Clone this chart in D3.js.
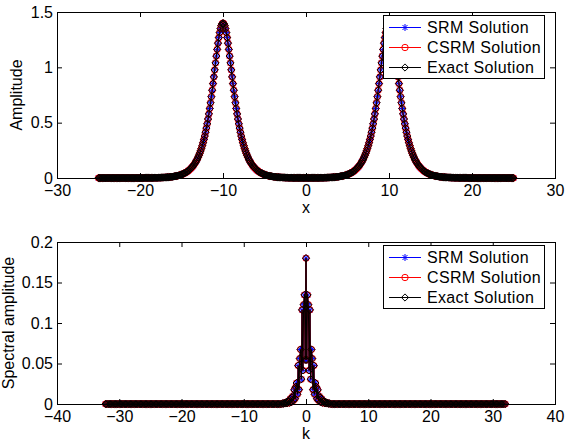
<!DOCTYPE html>
<html lang="en">
<head>
<meta charset="utf-8">
<title>SRM / CSRM / Exact solution</title>
<script src="https://d3js.org/d3.v7.min.js"></script>
<style>
  body { margin: 0; background: #fff; }
  svg text { font-family: "Liberation Sans", Arial, sans-serif; fill: #000; }
</style>
</head>
<body>
<svg id="chart" width="567" height="446"></svg>
<script>

var topX = [
  -25,-24.9,-24.8,-24.7,-24.6,-24.5,-24.4,-24.3,-24.2,-24.1,
  -24,-23.9,-23.8,-23.7,-23.6,-23.5,-23.4,-23.3,-23.2,-23.1,
  -23,-22.9,-22.8,-22.7,-22.6,-22.5,-22.4,-22.3,-22.2,-22.1,
  -22,-21.9,-21.8,-21.7,-21.6,-21.5,-21.4,-21.3,-21.2,-21.1,
  -21,-20.9,-20.8,-20.7,-20.6,-20.5,-20.4,-20.3,-20.2,-20.1,
  -20,-19.9,-19.8,-19.7,-19.6,-19.5,-19.4,-19.3,-19.2,-19.1,
  -19,-18.9,-18.8,-18.7,-18.6,-18.5,-18.4,-18.3,-18.2,-18.1,
  -18,-17.9,-17.8,-17.7,-17.6,-17.5,-17.4,-17.3,-17.2,-17.1,
  -17,-16.9,-16.8,-16.7,-16.6,-16.5,-16.4,-16.3,-16.2,-16.1,
  -16,-15.9,-15.8,-15.7,-15.6,-15.5,-15.4,-15.3,-15.2,-15.1,
  -15,-14.9,-14.8,-14.7,-14.6,-14.5,-14.4,-14.3,-14.2,-14.1,
  -14,-13.9,-13.8,-13.7,-13.6,-13.5,-13.4,-13.3,-13.2,-13.1,
  -13,-12.9,-12.8,-12.7,-12.6,-12.5,-12.4,-12.3,-12.2,-12.1,
  -12,-11.9,-11.8,-11.7,-11.6,-11.5,-11.4,-11.3,-11.2,-11.1,
  -11,-10.9,-10.8,-10.7,-10.6,-10.5,-10.4,-10.3,-10.2,-10.1,
  -10,-9.9,-9.8,-9.7,-9.6,-9.5,-9.4,-9.3,-9.2,-9.1,
  -9,-8.9,-8.8,-8.7,-8.6,-8.5,-8.4,-8.3,-8.2,-8.1,
  -8,-7.9,-7.8,-7.7,-7.6,-7.5,-7.4,-7.3,-7.2,-7.1,
  -7,-6.9,-6.8,-6.7,-6.6,-6.5,-6.4,-6.3,-6.2,-6.1,
  -6,-5.9,-5.8,-5.7,-5.6,-5.5,-5.4,-5.3,-5.2,-5.1,
  -5,-4.9,-4.8,-4.7,-4.6,-4.5,-4.4,-4.3,-4.2,-4.1,
  -4,-3.9,-3.8,-3.7,-3.6,-3.5,-3.4,-3.3,-3.2,-3.1,
  -3,-2.9,-2.8,-2.7,-2.6,-2.5,-2.4,-2.3,-2.2,-2.1,
  -2,-1.9,-1.8,-1.7,-1.6,-1.5,-1.4,-1.3,-1.2,-1.1,
  -1,-0.9,-0.8,-0.7,-0.6,-0.5,-0.4,-0.3,-0.2,-0.1,
  0,0.1,0.2,0.3,0.4,0.5,0.6,0.7,0.8,0.9,
  1,1.1,1.2,1.3,1.4,1.5,1.6,1.7,1.8,1.9,
  2,2.1,2.2,2.3,2.4,2.5,2.6,2.7,2.8,2.9,
  3,3.1,3.2,3.3,3.4,3.5,3.6,3.7,3.8,3.9,
  4,4.1,4.2,4.3,4.4,4.5,4.6,4.7,4.8,4.9,
  5,5.1,5.2,5.3,5.4,5.5,5.6,5.7,5.8,5.9,
  6,6.1,6.2,6.3,6.4,6.5,6.6,6.7,6.8,6.9,
  7,7.1,7.2,7.3,7.4,7.5,7.6,7.7,7.8,7.9,
  8,8.1,8.2,8.3,8.4,8.5,8.6,8.7,8.8,8.9,
  9,9.1,9.2,9.3,9.4,9.5,9.6,9.7,9.8,9.9,
  10,10.1,10.2,10.3,10.4,10.5,10.6,10.7,10.8,10.9,
  11,11.1,11.2,11.3,11.4,11.5,11.6,11.7,11.8,11.9,
  12,12.1,12.2,12.3,12.4,12.5,12.6,12.7,12.8,12.9,
  13,13.1,13.2,13.3,13.4,13.5,13.6,13.7,13.8,13.9,
  14,14.1,14.2,14.3,14.4,14.5,14.6,14.7,14.8,14.9,
  15,15.1,15.2,15.3,15.4,15.5,15.6,15.7,15.8,15.9,
  16,16.1,16.2,16.3,16.4,16.5,16.6,16.7,16.8,16.9,
  17,17.1,17.2,17.3,17.4,17.5,17.6,17.7,17.8,17.9,
  18,18.1,18.2,18.3,18.4,18.5,18.6,18.7,18.8,18.9,
  19,19.1,19.2,19.3,19.4,19.5,19.6,19.7,19.8,19.9,
  20,20.1,20.2,20.3,20.4,20.5,20.6,20.7,20.8,20.9,
  21,21.1,21.2,21.3,21.4,21.5,21.6,21.7,21.8,21.9,
  22,22.1,22.2,22.3,22.4,22.5,22.6,22.7,22.8,22.9,
  23,23.1,23.2,23.3,23.4,23.5,23.6,23.7,23.8,23.9,
  24,24.1,24.2,24.3,24.4,24.5,24.6,24.7,24.8,24.9,
  25
];
var topAmp = [
  // -25.0 .. -19.6
  0,0,0,0,0,0,0,0,0,0, 0,0,0,0,0,0,0,0,0,0, 0,0,0,0,0,0,0,0,0,0,
  0,0,0,0,0,0,0,0,0,0, 0,0,0,0,0,0,0,0,0,0, 0,0,0,0,0,
  // -19.5 .. -16.0
  0.001,0.001,0.001,0.001,0.001,0.001,0.001,0.001,0.001,0.001,0.001,0.001,
  0.002,0.002,0.002,0.002,0.002,0.003,0.003,0.003,0.003,0.004,0.004,0.004,
  0.005,0.005,0.006,0.006,0.007,0.007,0.008,0.009,0.010,0.011,0.012,0.013,
  // -15.9 .. -13.6
  0.014,0.015,0.017,0.018,0.020,0.022,0.024,0.026,0.028,0.031,0.034,0.037,
  0.041,0.045,0.049,0.053,0.058,0.064,0.070,0.076,0.084,0.092,0.100,0.109,
  // -13.5 .. -6.5 (first soliton)
  0.120,0.131,0.143,0.157,0.171,0.187,0.205,0.224,0.245,0.267,
  0.292,0.319,0.348,0.379,0.414,0.451,0.490,0.533,0.579,0.628,
  0.680,0.735,0.793,0.853,0.914,0.977,1.040,1.102,1.162,1.218,
  1.269,1.314,1.350,1.378,1.394,1.400,1.394,1.378,1.350,1.314,
  1.269,1.218,1.162,1.102,1.040,0.977,0.914,0.853,0.793,0.735,
  0.680,0.628,0.579,0.533,0.490,0.451,0.414,0.379,0.348,0.319,
  0.292,0.267,0.245,0.224,0.205,0.187,0.171,0.157,0.143,0.131,
  0.120,
  // -6.4 .. -4.1
  0.109,0.100,0.092,0.084,0.076,0.070,0.064,0.058,0.053,0.049,0.045,0.041,
  0.037,0.034,0.031,0.028,0.026,0.024,0.022,0.020,0.018,0.017,0.015,0.014,
  // -4.0 .. -1.7
  0.013,0.012,0.011,0.010,0.009,0.008,0.007,0.007,0.006,0.006,0.005,0.005,
  0.004,0.004,0.004,0.003,0.003,0.003,0.003,0.002,0.002,0.002,0.002,0.002,
  // -1.6 .. 1.6
  0.001,0.001,0.001,0.001,0.001,0.001,0.001,0.001,0.001,0.001,0.001,
  0.001,0.001,0.001,0.001,0.001,0.001,0.001,0.001,0.001,0.001,0.001,
  0.001,0.001,0.001,0.001,0.001,0.001,0.001,0.001,0.001,0.001,0.001,
  // 1.7 .. 4.0
  0.002,0.002,0.002,0.002,0.002,0.003,0.003,0.003,0.003,0.004,0.004,0.004,
  0.005,0.005,0.006,0.006,0.007,0.007,0.008,0.009,0.010,0.011,0.012,0.013,
  // 4.1 .. 6.4
  0.014,0.015,0.017,0.018,0.020,0.022,0.024,0.026,0.028,0.031,0.034,0.037,
  0.041,0.045,0.049,0.053,0.058,0.064,0.070,0.076,0.084,0.092,0.100,0.109,
  // 6.5 .. 13.5 (second soliton)
  0.120,0.131,0.143,0.157,0.171,0.187,0.205,0.224,0.245,0.267,
  0.292,0.319,0.348,0.379,0.414,0.451,0.490,0.533,0.579,0.628,
  0.680,0.735,0.793,0.853,0.914,0.977,1.040,1.102,1.162,1.218,
  1.269,1.314,1.350,1.378,1.394,1.400,1.394,1.378,1.350,1.314,
  1.269,1.218,1.162,1.102,1.040,0.977,0.914,0.853,0.793,0.735,
  0.680,0.628,0.579,0.533,0.490,0.451,0.414,0.379,0.348,0.319,
  0.292,0.267,0.245,0.224,0.205,0.187,0.171,0.157,0.143,0.131,
  0.120,
  // 13.6 .. 15.9
  0.109,0.100,0.092,0.084,0.076,0.070,0.064,0.058,0.053,0.049,0.045,0.041,
  0.037,0.034,0.031,0.028,0.026,0.024,0.022,0.020,0.018,0.017,0.015,0.014,
  // 16.0 .. 19.5
  0.013,0.012,0.011,0.010,0.009,0.008,0.007,0.007,0.006,0.006,0.005,0.005,
  0.004,0.004,0.004,0.003,0.003,0.003,0.003,0.002,0.002,0.002,0.002,0.002,
  0.001,0.001,0.001,0.001,0.001,0.001,0.001,0.001,0.001,0.001,0.001,0.001,
  // 19.6 .. 25.0
  0,0,0,0,0,0,0,0,0,0, 0,0,0,0,0,0,0,0,0,0, 0,0,0,0,0,0,0,0,0,0,
  0,0,0,0,0,0,0,0,0,0, 0,0,0,0,0,0,0,0,0,0, 0,0,0,0,0
];

// ---- bottom panel: spectral amplitude vs k ----
var specK = [
  -32.2,-32,-31.8,-31.6,-31.4,-31.2,-31,-30.8,-30.6,-30.4,
  -30.2,-30,-29.8,-29.6,-29.4,-29.2,-29,-28.8,-28.6,-28.4,
  -28.2,-28,-27.8,-27.6,-27.4,-27.2,-27,-26.8,-26.6,-26.4,
  -26.2,-26,-25.8,-25.6,-25.4,-25.2,-25,-24.8,-24.6,-24.4,
  -24.2,-24,-23.8,-23.6,-23.4,-23.2,-23,-22.8,-22.6,-22.4,
  -22.2,-22,-21.8,-21.6,-21.4,-21.2,-21,-20.8,-20.6,-20.4,
  -20.2,-20,-19.8,-19.6,-19.4,-19.2,-19,-18.8,-18.6,-18.4,
  -18.2,-18,-17.8,-17.6,-17.4,-17.2,-17,-16.8,-16.6,-16.4,
  -16.2,-16,-15.8,-15.6,-15.4,-15.2,-15,-14.8,-14.6,-14.4,
  -14.2,-14,-13.8,-13.6,-13.4,-13.2,-13,-12.8,-12.6,-12.4,
  -12.2,-12,-11.8,-11.6,-11.4,-11.2,-11,-10.8,-10.6,-10.4,
  -10.2,-10,-9.8,-9.6,-9.4,-9.2,-9,-8.8,-8.6,-8.4,
  -8.2,-8,-7.8,-7.6,-7.4,-7.2,-7,-6.8,-6.6,-6.4,
  -6.2,-6,-5.8,-5.6,-5.4,-5.2,-5,-4.8,-4.6,-4.4,
  -4.2,-4,
  -3.770,-3.644,-3.519,-3.393,-3.267,-3.142,-3.016,-2.890,-2.765,-2.639,-2.513,-2.388,-2.262,-2.136,-2.011,
  -1.885,-1.759,-1.634,-1.508,-1.382,-1.257,-1.131,-1.005,-0.880,-0.754,-0.628,-0.503,-0.377,-0.251,-0.126,0,
  0.126,0.251,0.377,0.503,0.628,0.754,0.880,1.005,1.131,1.257,1.382,1.508,1.634,1.759,1.885,
  2.011,2.136,2.262,2.388,2.513,2.639,2.765,2.890,3.016,3.142,3.267,3.393,3.519,3.644,3.770,
  4,4.2,4.4,4.6,4.8,5,5.2,5.4,5.6,5.8,
  6,6.2,6.4,6.6,6.8,7,7.2,7.4,7.6,7.8,
  8,8.2,8.4,8.6,8.8,9,9.2,9.4,9.6,9.8,
  10,10.2,10.4,10.6,10.8,11,11.2,11.4,11.6,11.8,
  12,12.2,12.4,12.6,12.8,13,13.2,13.4,13.6,13.8,
  14,14.2,14.4,14.6,14.8,15,15.2,15.4,15.6,15.8,
  16,16.2,16.4,16.6,16.8,17,17.2,17.4,17.6,17.8,
  18,18.2,18.4,18.6,18.8,19,19.2,19.4,19.6,19.8,
  20,20.2,20.4,20.6,20.8,21,21.2,21.4,21.6,21.8,
  22,22.2,22.4,22.6,22.8,23,23.2,23.4,23.6,23.8,
  24,24.2,24.4,24.6,24.8,25,25.2,25.4,25.6,25.8,
  26,26.2,26.4,26.6,26.8,27,27.2,27.4,27.6,27.8,
  28,28.2,28.4,28.6,28.8,29,29.2,29.4,29.6,29.8,
  30,30.2,30.4,30.6,30.8,31,31.2,31.4,31.6,31.8,
  32
];
var specAmp = [
  // -32.2 .. -4.0
  0,0,0,0,0,0,0,0,0,0, 0,0,0,0,0,0,0,0,0,0, 0,0,0,0,0,0,0,0,0,0,
  0,0,0,0,0,0,0,0,0,0, 0,0,0,0,0,0,0,0,0,0, 0,0,0,0,0,0,0,0,0,0,
  0,0,0,0,0,0,0,0,0,0, 0,0,0,0,0,0,0,0,0,0, 0,0,0,0,0,0,0,0,0,0,
  0,0,0,0,0,0,0,0,0,0, 0,0,0,0,0,0,0,0,0,0, 0,0,0,0,0,0,0,0,0,0,
  0,0,0,0,0,0,0,0,0,0, 0,0,0,0,0,0,0,0,0,0,
  0,0,
  // central peak
  0.0008,0.0003,0.0010,0.0013,0.0007,0.0024,0.0009,0.0029,0.0035,0.0016,0.0065,0.0024,0.0078,0.0095,0.0044,
  0.0176,0.0066,0.0212,0.0259,0.0120,0.0474,0.0177,0.0561,0.0673,0.0306,0.1162,0.0415,0.1226,0.1346,0.0545,0.180,
  0.0545,0.1346,0.1226,0.0415,0.1162,0.0306,0.0673,0.0561,0.0177,0.0474,0.0120,0.0259,0.0212,0.0066,0.0176,
  0.0044,0.0095,0.0078,0.0024,0.0065,0.0016,0.0035,0.0029,0.0009,0.0024,0.0007,0.0013,0.0010,0.0003,0.0008,
  // 4.0 .. 32.0
  0,0,0,0,0,0,0,0,0,0, 0,0,0,0,0,0,0,0,0,0, 0,0,0,0,0,0,0,0,0,0,
  0,0,0,0,0,0,0,0,0,0, 0,0,0,0,0,0,0,0,0,0, 0,0,0,0,0,0,0,0,0,0,
  0,0,0,0,0,0,0,0,0,0, 0,0,0,0,0,0,0,0,0,0, 0,0,0,0,0,0,0,0,0,0,
  0,0,0,0,0,0,0,0,0,0, 0,0,0,0,0,0,0,0,0,0, 0,0,0,0,0,0,0,0,0,0,
  0,0,0,0,0,0,0,0,0,0, 0,0,0,0,0,0,0,0,0,0,
  0
];

// tick values
var topXTicks = [-30, -20, -10, 0, 10, 20, 30];
var topYTicks = [0, 0.5, 1, 1.5];
var specKTicks = [-40, -30, -20, -10, 0, 10, 20, 30, 40];
var specYTicks = [0, 0.05, 0.1, 0.15, 0.2];

// the three solutions lie on top of each other
var seriesNames = ["SRM Solution", "CSRM Solution", "Exact Solution"];
var seriesColors = ["#0000ff", "#ff0000", "#000000"];
var seriesMarkers = [
  "M-3.5,0H3.5M0,-3.5V3.5M-2.5,-2.5L2.5,2.5M-2.5,2.5L2.5,-2.5",   // asterisk
  "M3.2,0A3.2,3.2 0 1,1 -3.2,0A3.2,3.2 0 1,1 3.2,0Z",           // circle
  "M0,-3.6L3.6,0L0,3.6L-3.6,0Z"                                // diamond
];

if (topX.length !== topAmp.length || specK.length !== specAmp.length) {
  console.error("length mismatch", topX.length, topAmp.length, specK.length, specAmp.length);
}

var svg = d3.select("#chart");
var plotLeft = 57, plotRight = 555;

function drawPanel(cfg) {
  var x = d3.scaleLinear().domain(cfg.xDomain).range([plotLeft, plotRight]);
  var y = d3.scaleLinear().domain(cfg.yDomain).range([cfg.bottom, cfg.top]);
  var g = svg.append("g");

  var pts = cfg.xs.map(function(v, i) { return [v, cfg.ys[i]]; });
  var line = d3.line().x(function(d) { return x(d[0]); }).y(function(d) { return y(d[1]); });

  // series: line + markers, exact solution drawn last
  seriesNames.forEach(function(name, s) {
    g.append("path")
      .datum(pts)
      .attr("fill", "none")
      .attr("stroke", seriesColors[s])
      .attr("stroke-width", 1)
      .attr("d", line);
    g.append("g").selectAll("path")
      .data(pts)
      .join("path")
      .attr("transform", function(d) { return "translate(" + x(d[0]) + "," + y(d[1]) + ")"; })
      .attr("d", seriesMarkers[s])
      .attr("fill", "none")
      .attr("stroke", seriesColors[s])
      .attr("stroke-width", 1);
  });

  // axes, ticks pointing inwards on all four sides
  function style(ax) {
    ax.attr("font-size", 16).attr("font-family", "Liberation Sans, Arial, sans-serif");
    ax.select(".domain").remove();
    ax.selectAll("text").attr("fill", "#000");
  }
  g.append("g").attr("transform", "translate(0," + cfg.bottom + ")")
    .call(d3.axisBottom(x).tickValues(cfg.xTicks).tickSizeInner(-5).tickSizeOuter(0).tickPadding(7))
    .call(style);
  g.append("g").attr("transform", "translate(0," + cfg.top + ")")
    .call(d3.axisTop(x).tickValues(cfg.xTicks).tickSizeInner(-5).tickSizeOuter(0).tickFormat(""))
    .call(style);
  g.append("g").attr("transform", "translate(" + plotLeft + ",0)")
    .call(d3.axisLeft(y).tickValues(cfg.yTicks).tickSizeInner(-5).tickSizeOuter(0).tickPadding(4).tickFormat(d3.format("")))
    .call(style);
  g.append("g").attr("transform", "translate(" + plotRight + ",0)")
    .call(d3.axisRight(y).tickValues(cfg.yTicks).tickSizeInner(-5).tickSizeOuter(0).tickFormat(""))
    .call(style);

  g.append("rect")
    .attr("x", plotLeft + 0.5).attr("y", cfg.top + 0.5)
    .attr("width", plotRight - plotLeft).attr("height", cfg.bottom - cfg.top)
    .attr("fill", "none").attr("stroke", "#000").attr("stroke-width", 1);

  // axis labels
  g.append("text")
    .attr("x", (plotLeft + plotRight) / 2).attr("y", cfg.bottom + 35)
    .attr("text-anchor", "middle").attr("font-size", 16)
    .text(cfg.xLabel);
  g.append("text")
    .attr("transform", "translate(" + cfg.yLabelX + "," + (cfg.top + cfg.bottom) / 2 + ") rotate(-90)")
    .attr("text-anchor", "middle").attr("font-size", 16)
    .text(cfg.yLabel);

  // legend
  var lg = g.append("g").attr("transform", "translate(383," + (cfg.top + 3) + ")");
  lg.append("rect")
    .attr("x", 0.5).attr("y", 0.5).attr("width", 161).attr("height", 63)
    .attr("fill", "#fff").attr("stroke", "#000").attr("stroke-width", 1);
  seriesNames.forEach(function(name, s) {
    var ry = 12.5 + s * 20;
    lg.append("line")
      .attr("x1", 6).attr("x2", 38).attr("y1", ry).attr("y2", ry)
      .attr("stroke", seriesColors[s]).attr("stroke-width", 1);
    lg.append("path")
      .attr("transform", "translate(22," + ry + ")")
      .attr("d", seriesMarkers[s])
      .attr("fill", "none").attr("stroke", seriesColors[s]).attr("stroke-width", 1);
    lg.append("text")
      .attr("x", 44).attr("y", ry).attr("dy", "0.35em")
      .attr("font-size", 16).attr("letter-spacing", 0.35)
      .text(name);
  });
}

drawPanel({
  xs: topX, ys: topAmp,
  xDomain: [-30, 30], yDomain: [0, 1.5],
  xTicks: topXTicks, yTicks: topYTicks,
  top: 12, bottom: 178,
  xLabel: "x", yLabel: "Amplitude", yLabelX: 22
});

drawPanel({
  xs: specK, ys: specAmp,
  xDomain: [-40, 40], yDomain: [0, 0.2],
  xTicks: specKTicks, yTicks: specYTicks,
  top: 242, bottom: 404,
  xLabel: "k", yLabel: "Spectral amplitude", yLabelX: 14
});

</script>
</body>
</html>
